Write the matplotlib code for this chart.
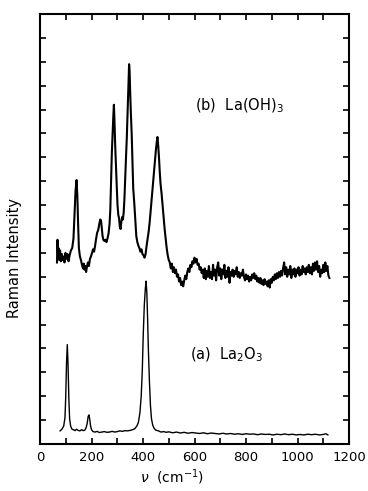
import matplotlib
matplotlib.use('Agg')
import matplotlib.pyplot as plt

# (a) La2O3 spectrum
shift_a = [78, 85, 92, 97, 100, 103, 106, 109, 112, 115, 119, 124, 130, 136, 142, 148,
           155, 162, 168, 174, 179, 183, 187, 190, 193, 196, 200, 206, 214, 222, 230, 240,
           250, 260, 270, 280, 290, 300, 310, 320, 330, 340, 350, 360, 368, 376, 382, 388,
           393, 397, 401, 405, 409, 412, 415, 418, 421, 425, 429, 433, 438, 444, 450, 460,
           470, 480, 490, 500, 515, 530, 545, 560, 575, 590, 605, 620, 635, 650, 665, 680,
           695, 710, 725, 740, 755, 770, 785, 800, 815, 830, 845, 860, 875, 890, 905, 920,
           935, 950, 965, 980, 995, 1010, 1025, 1040, 1055, 1070, 1085, 1100, 1110, 1118]
intensity_a = [0.55, 0.62, 0.75, 1.1, 2.0, 3.4, 4.16, 3.3, 1.9, 1.05, 0.75, 0.62, 0.6, 0.56, 0.62, 0.57,
               0.55, 0.6, 0.56, 0.58, 0.68, 0.85, 1.15, 1.22, 1.05, 0.78, 0.6, 0.52, 0.5, 0.53, 0.48, 0.5,
               0.52, 0.49, 0.5, 0.53, 0.5, 0.52, 0.55, 0.53, 0.56, 0.55, 0.57, 0.6, 0.64, 0.75, 0.9, 1.3,
               2.0, 3.0, 4.6, 5.8, 6.5, 6.82, 6.3, 5.2, 3.9, 2.6, 1.6, 1.05, 0.78, 0.64, 0.58, 0.55,
               0.5, 0.52, 0.49, 0.51, 0.47, 0.5, 0.46, 0.49, 0.45, 0.48, 0.46, 0.44, 0.47, 0.43, 0.46, 0.44,
               0.42, 0.45, 0.42, 0.44, 0.41, 0.43, 0.4, 0.43, 0.41, 0.42, 0.39, 0.42, 0.4, 0.41, 0.38, 0.41,
               0.39, 0.42, 0.39, 0.41, 0.38, 0.4, 0.38, 0.41, 0.39, 0.41, 0.38, 0.4, 0.43, 0.38]

# (b) La(OH)3 spectrum
shift_b = [66, 68, 70, 72, 75, 78, 81, 85, 88, 92, 95, 99, 103, 107, 111, 115, 120, 125, 130, 134,
           138, 142, 145, 148, 151, 155, 159, 163, 167, 170, 173, 176, 179, 182, 186, 190, 194, 198,
           202, 206, 210, 214, 218, 222, 226, 230, 234, 237, 240, 243, 246, 250, 254, 258, 262, 266,
           270, 273, 276, 279, 282, 285, 287, 289, 292, 295, 298, 301, 304, 307, 310, 313, 316, 319,
           322, 325, 328, 331, 334, 337, 340, 343, 346, 348, 350, 353, 356, 359, 362, 366, 370, 374,
           378, 382, 386, 390, 394, 398, 402, 406, 410, 414, 418, 422, 426, 430, 434, 438, 442, 446,
           450, 453, 456, 459, 462, 465, 468, 472, 476, 480, 484, 488, 492, 496, 500,
           504, 508, 512, 516, 520, 524, 528, 532, 536, 540, 544, 548, 552, 556, 560, 564, 568, 572,
           576, 580, 584, 588, 592, 596, 600, 604, 608, 612, 616, 620, 624, 628, 632, 636, 640, 644,
           648, 652, 656, 660, 664, 668, 672, 676, 680, 684, 688, 692, 696, 700, 704, 708, 712, 716,
           720, 724, 728, 732, 736, 740, 744, 748, 752, 756, 760, 764, 768, 772, 776, 780, 784, 788,
           792, 796, 800, 804, 808, 812, 816, 820, 824, 828, 832, 836, 840, 844, 848, 852, 856, 860,
           864, 868, 872, 876, 880, 884, 888, 892, 896, 900, 904, 908, 912, 916, 920, 924, 928, 932,
           936, 940, 944, 948, 952, 956, 960, 964, 968, 972, 976, 980, 984, 988, 992, 996, 1000, 1004,
           1008, 1012, 1016, 1020, 1024, 1028, 1032, 1036, 1040, 1044, 1048, 1052, 1056, 1060, 1064,
           1068, 1072, 1076, 1080, 1084, 1088, 1092, 1096, 1100, 1104, 1108, 1112, 1116, 1120, 1124]
intensity_b = [7.6, 8.55, 7.9, 8.2, 7.7, 8.1, 7.65, 7.95, 7.7, 7.85, 7.6, 8.0, 7.75, 7.95, 7.65, 7.9,
               8.1, 8.2, 8.6, 9.6, 10.6, 11.05, 10.4, 9.2, 8.2, 7.85, 7.7, 7.5, 7.35, 7.55, 7.3, 7.45,
               7.2, 7.4, 7.6, 7.45, 7.75, 7.85, 8.0, 8.15, 8.05, 8.3, 8.6, 8.85, 8.95, 9.2, 9.4, 9.35,
               9.0, 8.7, 8.55, 8.5, 8.55, 8.45, 8.6, 8.8, 9.2, 9.8, 11.0, 12.2, 13.0, 13.8, 14.2, 13.6,
               12.5, 11.6, 10.8, 10.0, 9.6, 9.45, 9.1, 9.0, 9.3, 9.5, 9.4, 9.7, 10.3, 11.2, 12.0, 12.8,
               13.8, 14.8, 15.9, 15.6, 14.8, 13.8, 13.0, 11.8, 10.7, 10.1, 9.4, 8.7, 8.45, 8.3, 8.2,
               8.05, 8.15, 7.95, 7.9, 7.8, 7.95, 8.3, 8.6, 8.9, 9.3, 9.8, 10.3, 10.8, 11.3, 11.8, 12.3,
               12.6, 12.85, 12.5, 12.0, 11.4, 10.9, 10.5, 10.0, 9.5, 9.0, 8.6, 8.2, 7.9, 7.7,
               7.6, 7.35, 7.55, 7.2, 7.4, 7.15, 7.3, 7.0, 7.1, 6.8, 6.95, 6.65, 6.8, 6.6, 6.85, 7.05,
               6.9, 7.2, 7.35, 7.2, 7.5, 7.4, 7.65, 7.55, 7.8, 7.6, 7.75, 7.5, 7.55, 7.3, 7.4, 7.15,
               7.3, 6.95, 7.35, 6.9, 7.25, 7.0, 7.45, 6.95, 7.2, 6.9, 7.5, 7.05, 7.3, 6.85, 7.4, 7.6,
               7.05, 7.35, 6.9, 7.3, 7.1, 7.5, 6.95, 7.25, 7.0, 7.4, 6.75, 7.2, 7.05, 7.3, 7.0, 7.25,
               7.1, 7.4, 7.0, 7.2, 6.95, 7.15, 7.05, 7.3, 7.0, 6.85, 7.1, 6.9, 7.05, 6.8, 7.0, 6.85,
               7.1, 6.95, 7.15, 6.9, 7.05, 6.8, 6.95, 6.75, 6.95, 6.7, 6.85, 6.65, 6.9, 6.7, 6.8, 6.6,
               6.85, 6.55, 6.9, 6.75, 7.0, 6.85, 7.1, 6.9, 7.15, 6.95, 7.2, 7.0, 7.25, 7.05, 7.35, 7.6,
               7.1, 7.4, 7.0, 7.3, 7.1, 7.45, 6.95, 7.3, 7.1, 7.35, 7.0, 7.3, 7.15, 7.4, 7.05, 7.3,
               7.1, 7.45, 7.2, 7.35, 7.1, 7.4, 7.2, 7.5, 7.15, 7.4, 7.1, 7.55, 7.25, 7.6, 7.3, 7.65,
               7.2, 7.45, 7.0, 7.3, 7.15, 7.5, 7.2, 7.6, 7.25, 7.45, 7.05, 6.95]

x_ticks = list(range(0, 1201, 100))
x_labels = ['0', '', '200', '', '400', '', '600', '', '800', '', '1000', '', '1200']

fig = plt.figure(figsize=(3.68, 4.91), dpi=100)
ax = fig.add_axes([0.1087, 0.0957, 0.8397, 0.8758])

ax.plot(shift_b, intensity_b, color='k', lw=1.5)
ax.plot(shift_a, intensity_a, color='k', lw=1.0)

ax.set_xlim(0, 1200)
ax.set_ylim(0, 18)
ax.set_xticks(x_ticks)
ax.set_xticklabels(x_labels, fontsize=9.5)
ax.set_yticks(range(0, 19))
ax.set_yticklabels([])
ax.tick_params(direction='in', length=4, width=1.2, top=True, right=True, pad=5)
for sp in ax.spines.values():
    sp.set_linewidth(1.5)

ax.text(602, 14.15, '(b)  La(OH)$_3$', fontsize=10.5, va='center')
ax.text(583, 3.75, '(a)  La$_2$O$_3$', fontsize=10.5, va='center')

fig.text(0.04, 0.475, 'Raman Intensity', rotation=90, fontsize=10.5,
         ha='center', va='center')
fig.text(0.468, 0.028, r'$\nu$  (cm$^{-1}$)', fontsize=10, ha='center', va='center')

fig.savefig('out.png', dpi=100)
